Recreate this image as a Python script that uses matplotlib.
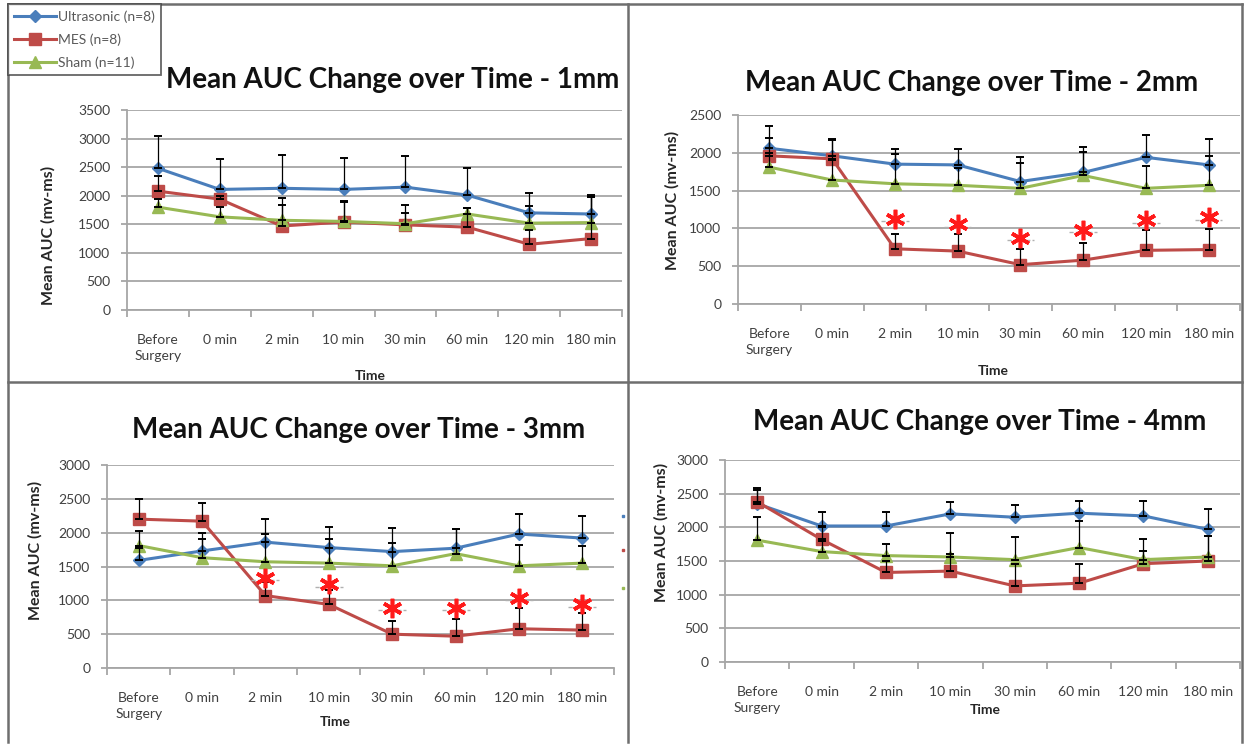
import numpy as np
import matplotlib
matplotlib.use('Agg')
import matplotlib.pyplot as plt
from matplotlib.lines import Line2D

plt.rcParams['font.family'] = ['Lato', 'DejaVu Sans']

W, H = 1244, 744

def fx(x):
    return x / W

def fy(y):
    return 1 - y / H

cats = ['Before\nSurgery', '0 min', '2 min', '10 min', '30 min', '60 min', '120 min', '180 min']
series_names = ['Ultrasonic (n=8)', 'MES (n=8)', 'Sham (n=11)']

# 1 mm
us_1 = [2480, 2110, 2130, 2110, 2150, 2010, 1700, 1680]
us_1_top = [3040, 2640, 2720, 2660, 2690, 2480, 2040, 2020]
mes_1 = [2080, 1940, 1470, 1540, 1490, 1450, 1150, 1250]
mes_1_top = [2340, 2000, 1960, 1900, 1840, 1780, 1400, 1980]
sham_1 = [1800, 1630, 1570, 1550, 1510, 1680, 1520, 1530]
sham_1_top = [1950, 1800, 1830, 1890, 1700, 1780, 1820, 1970]
stars_1 = [None] * 8

# 2 mm
us_2 = [2060, 1960, 1850, 1840, 1620, 1740, 1940, 1840]
us_2_top = [2350, 2180, 2050, 2050, 1950, 2080, 2230, 2180]
mes_2 = [1960, 1920, 730, 700, 520, 580, 710, 720]
mes_2_top = [2200, 2170, 920, 920, 730, 810, 980, 990]
sham_2 = [1810, 1640, 1590, 1570, 1530, 1700, 1530, 1570]
sham_2_top = [2000, 1900, 1990, 1800, 1870, 2010, 1820, 1960]
stars_2 = [None, None, 1130, 1055, 870, 985, 1105, 1145]

# 3 mm
us_3 = [1590, 1730, 1860, 1780, 1720, 1770, 1980, 1920]
us_3_top = [1780, 2000, 2200, 2090, 2070, 2060, 2280, 2240]
mes_3 = [2200, 2170, 1070, 940, 500, 470, 580, 560]
mes_3_top = [2500, 2440, 1270, 1150, 690, 720, 880, 810]
sham_3 = [1810, 1630, 1570, 1550, 1510, 1690, 1510, 1550]
sham_3_top = [2020, 1900, 1980, 1900, 1850, 2050, 1820, 1800]
stars_3 = [None, None, 1335, 1240, 890, 890, 1040, 940]

# 4 mm
us_4 = [2350, 2020, 2020, 2200, 2150, 2210, 2170, 1970]
us_4_top = [2580, 2230, 2230, 2370, 2330, 2390, 2390, 2270]
mes_4 = [2380, 1820, 1330, 1350, 1130, 1170, 1460, 1500]
mes_4_top = [2560, 2000, 1500, 1600, 1450, 1460, 1650, 1870]
sham_4 = [1810, 1640, 1580, 1560, 1520, 1700, 1520, 1560]
sham_4_top = [2160, 1800, 1750, 1910, 1850, 2090, 1830, 1870]

colors = ['#4A7EBB', '#BE4B48', '#98B954']
markers = ['D', 's', '^']
msizes = [6, 9, 8]

# panel layout in pixels: axes box, title, ylabel, xlabel
panels = [
    dict(name='1mm', box=(127, 110, 622, 310), ymax=3500,
         title=(393, 80), ylab=(48, 235), xlab=(370, 376),
         data=[(us_1, us_1_top), (mes_1, mes_1_top), (sham_1, sham_1_top)], stars=stars_1),
    dict(name='2mm', box=(738, 115, 1240, 304), ymax=2500,
         title=(972, 83), ylab=(672, 200), xlab=(993, 371),
         data=[(us_2, us_2_top), (mes_2, mes_2_top), (sham_2, sham_2_top)], stars=stars_2),
    dict(name='3mm', box=(107, 465, 614, 668), ymax=3000,
         title=(359, 430), ylab=(35, 550), xlab=(335, 722),
         data=[(us_3, us_3_top), (mes_3, mes_3_top), (sham_3, sham_3_top)], stars=stars_3),
    dict(name='4mm', box=(725, 460, 1240, 662), ymax=3000,
         title=(980, 422), ylab=(661, 532), xlab=(985, 710),
         data=[(us_4, us_4_top), (mes_4, mes_4_top), (sham_4, sham_4_top)], stars=[None] * 8),
]

fig = plt.figure(figsize=(W / 100, H / 100), dpi=100)
fig.patch.set_facecolor('white')

x = np.arange(len(cats))
handles = []
for p in panels:
    x0, y0, x1, y1 = p['box']
    ax = fig.add_axes([fx(x0), fy(y1), fx(x1) - fx(x0), fy(y0) - fy(y1)])
    ax.set_xlim(-0.5, len(cats) - 0.5)
    ax.set_ylim(0, p['ymax'])
    ax.set_yticks(np.arange(0, p['ymax'] + 1, 500))
    ax.yaxis.grid(True, color='#A6A6A6', lw=1.3)
    ax.set_axisbelow(True)
    for s in ['top', 'right']:
        ax.spines[s].set_visible(False)
    for s in ['left', 'bottom']:
        ax.spines[s].set_color('#A6A6A6')
        ax.spines[s].set_linewidth(1.3)
    ax.set_xticks(x)
    ax.set_xticklabels(cats, fontsize=10, color='#404040', linespacing=1.45, va='top')
    ax.set_xticks(np.arange(-0.5, len(cats), 1), minor=True)
    ax.tick_params(axis='x', which='major', length=0, pad=17)
    ax.tick_params(axis='x', which='minor', length=5, color='#A6A6A6', width=1.3)
    ax.tick_params(axis='y', length=4, color='#A6A6A6', width=1.3, labelsize=10,
                   labelcolor='#404040', pad=8)

    for i, (vals, tops) in enumerate(p['data']):
        vals = np.array(vals, dtype=float)
        up = np.array(tops, dtype=float) - vals
        ax.errorbar(x, vals, yerr=[np.zeros_like(up), up], fmt='none', ecolor='black',
                    elinewidth=0.9, capsize=3, capthick=1.4, zorder=4)
        ln, = ax.plot(x, vals, color=colors[i], lw=2.2, marker=markers[i],
                      ms=msizes[i], mec=colors[i], zorder=3)
        if p['name'] == '1mm':
            handles.append(ln)

    for xi, sv in zip(x, p['stars']):
        if sv is None:
            continue
        ax.plot([xi - 0.22, xi + 0.22], [sv - p['ymax'] * 0.012] * 2, color='#B0B0B0',
                lw=1, ls=(0, (3, 1.5)), zorder=5)
        ax.plot([xi], [sv], marker=(6, 2, 0), ms=14, mew=2.6, color='#FF1A1A',
                zorder=6, ls='none')

    fig.text(fx(p['title'][0]), fy(p['title'][1]), 'Mean AUC Change over Time - ' + p['name'],
             ha='center', va='center', fontsize=20, fontweight='bold', color='#111111')
    fig.text(fx(p['ylab'][0]), fy(p['ylab'][1]), 'Mean AUC (mv-ms)', rotation=90,
             ha='center', va='center', fontsize=11.5, fontweight='bold', color='#262626')
    fig.text(fx(p['xlab'][0]), fy(p['xlab'][1]), 'Time', ha='center', va='center',
             fontsize=10, fontweight='bold', color='#262626')

# stray legend marks at the right of the 3mm panel
for c, yy in zip(colors, [516, 550, 588]):
    fig.add_artist(Line2D([fx(623)], [fy(yy)], marker='s', ms=2, color=c, ls='none'))

# panel frames
frame_kw = dict(color='#6E6E6E', lw=1.8)
fig.add_artist(Line2D([fx(8), fx(1242)], [fy(4), fy(4)], **frame_kw))
fig.add_artist(Line2D([fx(8), fx(1242)], [fy(382), fy(382)], **frame_kw))
fig.add_artist(Line2D([fx(8), fx(8)], [fy(4), fy(742)], **frame_kw))
fig.add_artist(Line2D([fx(628), fx(628)], [fy(4), fy(742)], **frame_kw))
fig.add_artist(Line2D([fx(1242), fx(1242)], [fy(4), fy(742)], **frame_kw))

leg = fig.legend(handles, series_names, loc='upper left',
                 bbox_to_anchor=(fx(8), fy(4)), fontsize=10, frameon=True,
                 fancybox=False, borderpad=0.45, handlelength=3.0, labelspacing=0.75,
                 handletextpad=0.15, borderaxespad=0)
leg.get_frame().set_edgecolor('#404040')
leg.get_frame().set_linewidth(1.3)
for t in leg.get_texts():
    t.set_color('#595959')

fig.savefig('out.png', dpi=100)
